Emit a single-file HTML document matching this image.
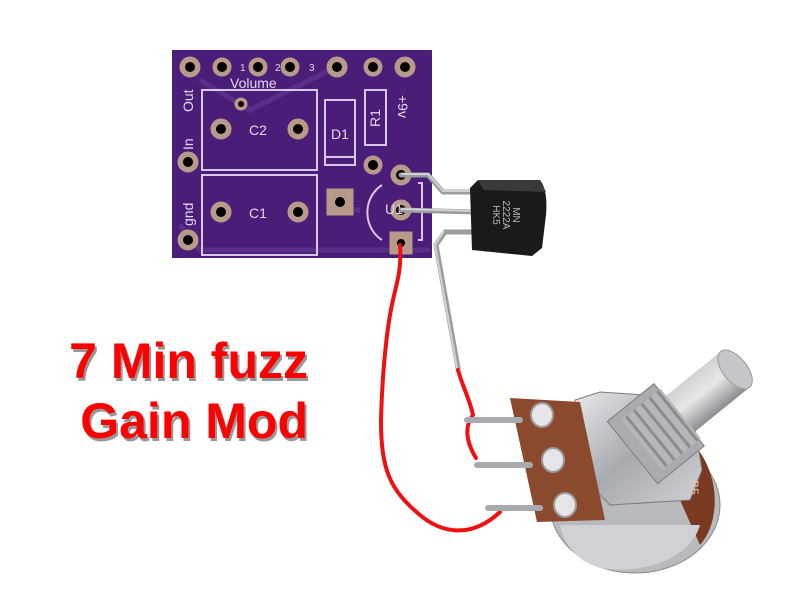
<!DOCTYPE html>
<html><head><style>
html,body{margin:0;padding:0;background:#fff;width:800px;height:600px;overflow:hidden}
svg{display:block}
</style></head><body>
<svg width="800" height="600" viewBox="0 0 800 600" xmlns="http://www.w3.org/2000/svg">
<defs>
<linearGradient id="sil" x1="0" y1="0" x2="1" y2="1"><stop offset="0" stop-color="#e8e8ea"/><stop offset="0.5" stop-color="#a8aab0"/><stop offset="1" stop-color="#d0d2d6"/></linearGradient>
<linearGradient id="shaft" x1="0" y1="0" x2="0" y2="1"><stop offset="0" stop-color="#d0d2d4"/><stop offset="0.45" stop-color="#e6e7e8"/><stop offset="1" stop-color="#8a8c90"/></linearGradient>
</defs>
<!-- PCB -->
<rect x="172" y="50" width="260" height="208" fill="#4a1d78"/>
<g fill="none" stroke="#5a2f8a" stroke-width="5">
<path d="M200 80 L250 110 L330 70"/><path d="M180 225 L200 250 L430 250"/><path d="M330 210 L360 210"/>
</g>
<g fill="none" stroke="#d8c8e8" stroke-width="2">
<rect x="202" y="90" width="115" height="80"/>
<rect x="202" y="175" width="115" height="80"/>
<rect x="325" y="100" width="30" height="65"/>
<line x1="325" y1="157" x2="355" y2="157"/>
<rect x="365" y="90" width="21" height="55"/>
<path d="M382 185 A30 32 0 0 0 382 240"/>
<path d="M418 183 L422 183 L422 240 L418 240"/>
</g>
<g fill="#b89a8a" stroke="#b89a8a">
<circle cx="190" cy="67" r="10"/><circle cx="222" cy="67" r="9"/><circle cx="258" cy="67" r="9"/><circle cx="290" cy="67" r="9"/>
<circle cx="337" cy="67" r="10"/><circle cx="373" cy="67" r="9"/><circle cx="405" cy="67" r="10"/>
<circle cx="188" cy="162" r="10"/><circle cx="188" cy="240" r="10"/>
<circle cx="221" cy="129" r="10"/><circle cx="298" cy="129" r="10"/><circle cx="221" cy="212" r="10"/><circle cx="298" cy="212" r="10"/>
<circle cx="241" cy="104" r="6"/><circle cx="373" cy="165" r="9"/>
<rect x="327" y="189" width="26" height="26"/>
<circle cx="401" cy="175" r="10"/><circle cx="401" cy="210" r="10"/>
<rect x="390" y="232" width="22" height="22"/>
</g>
<g fill="#000">
<circle cx="190" cy="67" r="5"/><circle cx="222" cy="67" r="5"/><circle cx="258" cy="67" r="5"/><circle cx="290" cy="67" r="5"/>
<circle cx="337" cy="67" r="5"/><circle cx="373" cy="67" r="5"/><circle cx="405" cy="67" r="5"/>
<circle cx="188" cy="162" r="5"/><circle cx="188" cy="240" r="5"/>
<circle cx="221" cy="129" r="5"/><circle cx="298" cy="129" r="5"/><circle cx="221" cy="212" r="5"/><circle cx="298" cy="212" r="5"/>
<circle cx="241" cy="104" r="3"/><circle cx="373" cy="165" r="5"/><circle cx="340" cy="202" r="5"/>
<circle cx="401" cy="175" r="5"/><circle cx="401" cy="210" r="5"/><circle cx="401" cy="243" r="4"/>
</g>
<g font-family="Liberation Sans, sans-serif" fill="#e4d8ee" font-size="14">
<text x="230" y="88">Volume</text>
<text x="240" y="71" font-size="10">1</text><text x="275" y="71" font-size="10">2</text><text x="309" y="71" font-size="10">3</text>
<text x="249" y="135">C2</text><text x="249" y="218">C1</text><text x="331" y="139">D1</text><text x="385" y="214">U1</text>
<text transform="translate(193,112) rotate(-90)">Out</text>
<text transform="translate(193,150) rotate(-90)">In</text>
<text transform="translate(193,226) rotate(-90)">gnd</text>
<text transform="translate(380,127) rotate(-90)">R1</text>
<text transform="translate(398,95) rotate(90)">+9v</text>
</g>
<!-- transistor leads -->
<g fill="none" stroke="#9a9ca0" stroke-width="5" stroke-linecap="round">
<path d="M401 175 L428 175 L443 192 L475 192"/>
<path d="M401 210 L475 212"/>
<path d="M475 232 L445 232 L436 245 L458 368"/>
</g>
<g fill="none" stroke="#d0d2d4" stroke-width="2"><path d="M401 174 L428 174 L443 191 L475 191"/><path d="M401 209 L475 211"/><path d="M444 231 L435 245 L457 368"/></g>
<path d="M470 188 L478 180 L540 180 Q548 190 546 215 L542 248 L532 256 L472 250 Z" fill="#1a1a1a"/>
<path d="M478 180 L540 180 L546 192 L484 190 Z" fill="#3a3a3a"/>
<g transform="translate(505,215) rotate(90)" font-family="Liberation Sans, sans-serif" font-size="10" fill="#bbb" text-anchor="middle">
<text y="-8">MN</text><text y="2">2222A</text><text y="12">HK5</text></g>
<!-- red wires -->
<g fill="none" stroke="#f01010" stroke-width="4" stroke-linecap="round" stroke-linejoin="round">
<path d="M400 245 C402 270 396 285 393 300 C386 330 382 380 381 420 C381 470 390 490 420 515 C440 532 470 540 500 512"/>
<path d="M458 370 C462 385 470 400 473 415 C465 425 465 440 476 458"/>
</g>
<!-- potentiometer -->
<ellipse cx="635" cy="505" rx="85" ry="68" fill="#b8babe" stroke="#8a8c90"/>
<path d="M690 440 C720 470 722 520 700 545 L680 500 Z" fill="#7a3a22"/>
<path d="M560 525 L700 525 C690 560 640 575 600 568 C575 560 565 545 560 525 Z" fill="#cfd1d4"/>
<path d="M575 400 L600 392 L690 398 L702 470 L690 500 L610 505 L585 480 Z" fill="url(#sil)" stroke="#7a7c80"/>
<g transform="translate(648,440) rotate(-39)">
<rect x="-20" y="-40" width="60" height="80" fill="#a9abaf" stroke="#7a7c80"/>
<rect x="-8" y="-32" width="50" height="64" fill="#b4b6ba"/>
<g stroke="#8a8c90" stroke-width="3"><line x1="-2" y1="-32" x2="-2" y2="32"/><line x1="8" y1="-32" x2="8" y2="32"/><line x1="18" y1="-32" x2="18" y2="32"/><line x1="28" y1="-32" x2="28" y2="32"/><line x1="38" y1="-32" x2="38" y2="32"/></g>
<rect x="42" y="-23" width="70" height="46" fill="url(#shaft)"/>
<ellipse cx="112" cy="0" rx="12" ry="23" fill="#c4c6c9" stroke="#999"/>
</g>
<path d="M510 398 L580 402 L605 520 L537 522 Z" fill="#8b4a2e"/>
<g fill="#e6e6e8" stroke="#9a9a9c" stroke-width="2">
<ellipse cx="542" cy="415" rx="11" ry="12"/><ellipse cx="553" cy="460" rx="11" ry="12"/><ellipse cx="565" cy="505" rx="11" ry="12"/>
</g>
<g fill="none" stroke="#a8aaae" stroke-width="6" stroke-linecap="round">
<path d="M467 420 L520 420"/><path d="M477 465 L530 465"/><path d="M488 508 L540 508"/>
</g>
<text x="0" y="0" transform="translate(690,480) rotate(90)" font-family="Liberation Sans, sans-serif" font-size="12" fill="#e8c8b8">B5</text>
<!-- title -->
<g font-family="Liberation Sans, sans-serif" font-weight="bold" font-size="50" text-anchor="end">
<text x="310" y="381" fill="#555" opacity="0.6">7 Min fuzz</text>
<text x="308" y="378" fill="#ff0000">7 Min fuzz</text>
<text x="310" y="441" fill="#555" opacity="0.6">Gain Mod</text>
<text x="308" y="438" fill="#ff0000">Gain Mod</text>
</g>
</svg>
</body></html>
